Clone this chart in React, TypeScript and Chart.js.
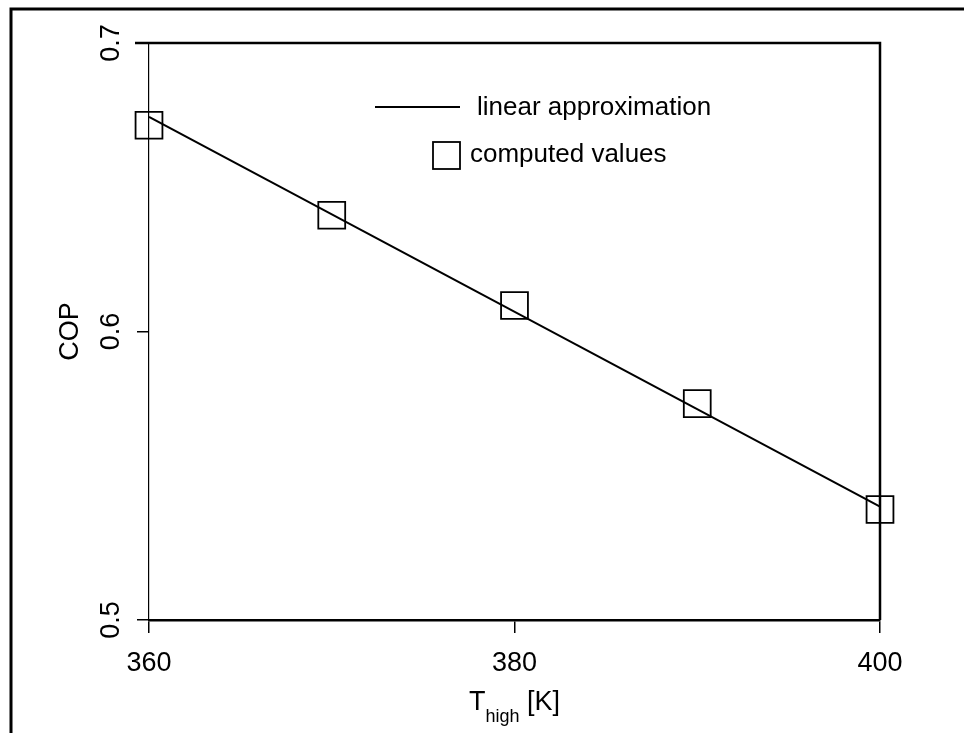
import React, { useEffect, useRef } from "react";
import { Chart, registerables } from "chart.js";

Chart.register(...registerables);

// ---- data ----
const tempK = [360, 370, 380, 390, 400];
const copComputed = [0.6715, 0.6403, 0.609, 0.575, 0.5383];
const approxTemps = [360, 400];
const copApprox = [0.6744, 0.5393];
const xTicks = [360, 380, 400];
const yTicks = [0.5, 0.6, 0.7];
const seriesNames = ["linear approximation", "computed values"];
const yTitle = "COP";
const xTitleMain = "T";
const xTitleSub = "high";
const xTitleUnit = " [K]";

const FONT = "'Liberation Sans', Arial, Helvetica, sans-serif";

const decor = {
  id: "decor",
  beforeDraw(chart: any) {
    const ctx = chart.ctx;
    ctx.save();
    ctx.fillStyle = "#fff";
    ctx.fillRect(0, 0, chart.width, chart.height);
    ctx.strokeStyle = "#000";
    ctx.lineWidth = 3;
    ctx.beginPath();
    ctx.moveTo(11, chart.height);
    ctx.lineTo(11, 9);
    ctx.lineTo(chart.width, 9);
    ctx.stroke();
    ctx.restore();
  },
  afterDraw(chart: any) {
    const ctx = chart.ctx;
    const { left, right, top, bottom } = chart.chartArea;
    const xs = chart.scales.x;
    const ys = chart.scales.y;
    ctx.save();
    // top and right frame
    ctx.strokeStyle = "#000";
    ctx.lineWidth = 2.5;
    ctx.beginPath();
    ctx.moveTo(left - 14, top);
    ctx.lineTo(right, top);
    ctx.lineTo(right, bottom);
    ctx.stroke();

    // y tick labels (rotated)
    ctx.fillStyle = "#000";
    ctx.font = `27px ${FONT}`;
    ctx.textAlign = "center";
    ctx.textBaseline = "middle";
    ys.ticks.forEach((t: any) => {
      const y = ys.getPixelForValue(t.value);
      ctx.save();
      ctx.translate(left - 37, y);
      ctx.rotate(-Math.PI / 2);
      ctx.fillText(Number(t.value).toFixed(1), 0, 0);
      ctx.restore();
    });

    // x axis title with subscript
    const cx = (xs.left + xs.right) / 2;
    const mainFont = `27px ${FONT}`;
    const subFont = `18px ${FONT}`;
    ctx.font = mainFont;
    const wT = ctx.measureText(xTitleMain).width;
    const wU = ctx.measureText(xTitleUnit).width;
    ctx.font = subFont;
    const wS = ctx.measureText(xTitleSub).width;
    const total = wT + wS + wU;
    let x0 = cx - total / 2;
    const base = 710;
    ctx.textAlign = "left";
    ctx.textBaseline = "alphabetic";
    ctx.font = mainFont;
    ctx.fillText(xTitleMain, x0, base);
    x0 += wT;
    ctx.font = subFont;
    ctx.fillText(xTitleSub, x0, base + 12);
    x0 += wS;
    ctx.font = mainFont;
    ctx.fillText(xTitleUnit, x0, base);

    // legend
    const ds0 = chart.data.datasets[0];
    const ds1 = chart.data.datasets[1];
    ctx.font = `26px ${FONT}`;
    ctx.textBaseline = "middle";
    ctx.strokeStyle = ds0.borderColor;
    ctx.lineWidth = ds0.borderWidth;
    ctx.beginPath();
    ctx.moveTo(375, 107);
    ctx.lineTo(460, 107);
    ctx.stroke();
    ctx.fillText(ds0.label, 477, 108);
    ctx.strokeStyle = ds1.borderColor;
    ctx.lineWidth = ds1.borderWidth;
    ctx.strokeRect(433, 142, 27, 27);
    ctx.fillText(ds1.label, 470, 155);
    ctx.restore();
  },
};

export default function App() {
  const canvasRef = useRef<HTMLCanvasElement | null>(null);

  useEffect(() => {
    const canvas = canvasRef.current;
    if (!canvas) return;
    const chart = new Chart(canvas, {
      type: "scatter",
      data: {
        datasets: [
          {
            label: seriesNames[0],
            data: approxTemps.map((t, i) => ({ x: t, y: copApprox[i] })),
            showLine: true,
            borderColor: "#000",
            borderWidth: 2,
            pointRadius: 0,
            pointHoverRadius: 0,
            fill: false,
            clip: false,
          },
          {
            label: seriesNames[1],
            data: tempK.map((t, i) => ({ x: t, y: copComputed[i] })),
            showLine: false,
            borderColor: "#000",
            backgroundColor: "rgba(0,0,0,0)",
            borderWidth: 1.8,
            pointStyle: "rect",
            pointRadius: 19,
            pointHoverRadius: 19,
            clip: false,
          },
        ],
      },
      options: {
        animation: false,
        responsive: false,
        maintainAspectRatio: false,
        events: [],
        layout: { padding: { top: 43, right: 84, left: 0, bottom: 0 } },
        plugins: {
          legend: { display: false },
          tooltip: { enabled: false },
          title: { display: false },
        },
        scales: {
          x: {
            type: "linear",
            min: 360,
            max: 400,
            afterBuildTicks: (s: any) => {
              s.ticks = xTicks.map((v) => ({ value: v }));
            },
            afterFit: (s: any) => {
              s.height = 113;
            },
            grid: {
              drawOnChartArea: false,
              drawTicks: true,
              tickLength: 13,
              color: "#000",
              lineWidth: 1.5,
            },
            border: { display: true, color: "#000", width: 2.5 },
            ticks: {
              color: "#000",
              font: { family: FONT, size: 27 },
              padding: 14,
              maxRotation: 0,
              callback: (v: any) => String(v),
            },
            title: { display: false },
          },
          y: {
            type: "linear",
            min: 0.5,
            max: 0.7,
            afterBuildTicks: (s: any) => {
              s.ticks = yTicks.map((v) => ({ value: v }));
            },
            afterFit: (s: any) => {
              s.width = 149;
            },
            grid: {
              drawOnChartArea: false,
              drawTicks: true,
              tickLength: 12,
              color: "#000",
              lineWidth: 1.5,
            },
            border: { display: true, color: "#000", width: 1.2 },
            ticks: { display: false },
            title: {
              display: true,
              text: yTitle,
              color: "#000",
              font: { family: FONT, size: 27 },
              padding: { top: 54, bottom: 0 },
            },
          },
        },
      },
      plugins: [decor],
    } as any);
    return () => chart.destroy();
  }, []);

  return (
    <div style={{ position: "absolute", left: 0, top: 0, width: 964, height: 733, background: "#fff" }}>
      <canvas ref={canvasRef} width={964} height={733} style={{ display: "block", width: 964, height: 733 }} />
    </div>
  );
}
